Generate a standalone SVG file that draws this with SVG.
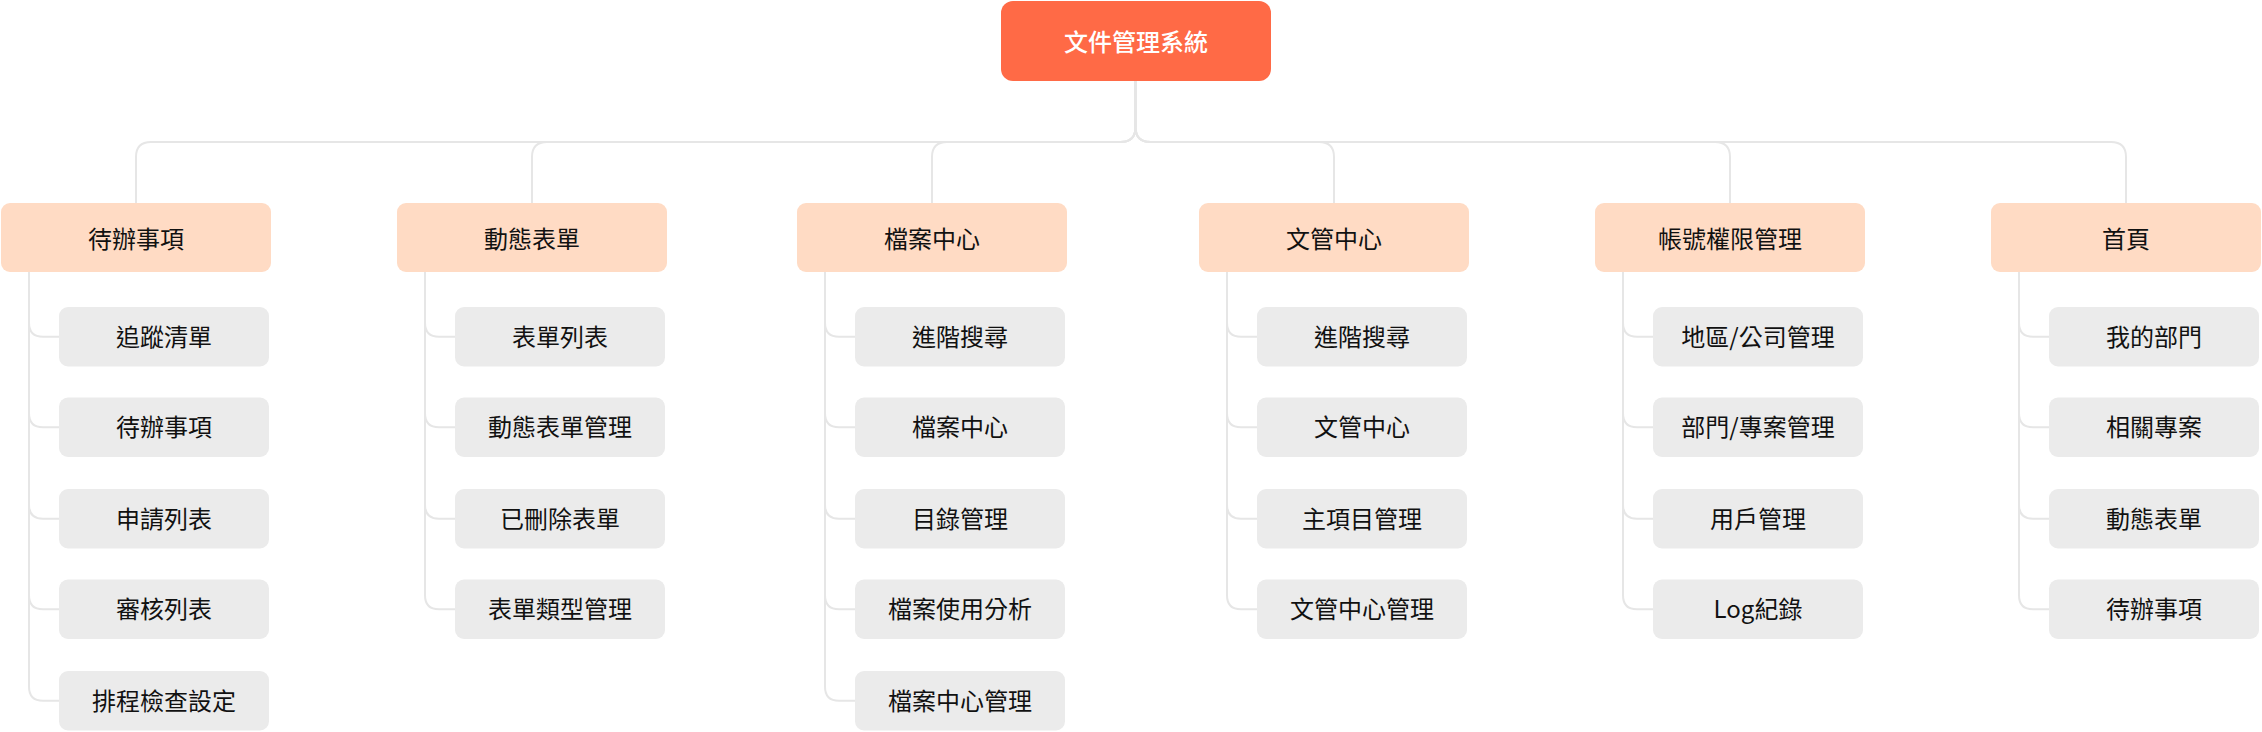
<svg xmlns="http://www.w3.org/2000/svg" width="2262" height="732" viewBox="0 0 2262 732">
<style>
.t{font-family:"Noto Sans CJK TC","Noto Sans CJK SC",sans-serif;font-size:24px;text-anchor:middle;fill:#111}
.rt{fill:#fff;font-weight:500}
.root{fill:#FF6A46}
.l1{fill:#FFDBC4}
.l2{fill:#EBEBEB}
.c path{fill:none;stroke:#E6E6E6;stroke-width:2}
</style>
<rect width="2262" height="732" fill="#fff"/>
<g class="c" id="connectors">
<path d="M1135.5 81V127Q1135.5 142 1120.5 142H151Q136 142 136 157V203"/>
<path d="M1135.5 81V127Q1135.5 142 1120.5 142H547Q532 142 532 157V203"/>
<path d="M1135.5 81V127Q1135.5 142 1120.5 142H947Q932 142 932 157V203"/>
<path d="M1135.5 81V127Q1135.5 142 1150.5 142H1319Q1334 142 1334 157V203"/>
<path d="M1135.5 81V127Q1135.5 142 1150.5 142H1715Q1730 142 1730 157V203"/>
<path d="M1135.5 81V127Q1135.5 142 1150.5 142H2111Q2126 142 2126 157V203"/>
<path d="M29 272V322.75Q29 336.75 43 336.75H59M29 272V413.25Q29 427.25 43 427.25H59M29 272V504.75Q29 518.75 43 518.75H59M29 272V595.25Q29 609.25 43 609.25H59M29 272V686.75Q29 700.75 43 700.75H59"/>
<path d="M425 272V322.75Q425 336.75 439 336.75H455M425 272V413.25Q425 427.25 439 427.25H455M425 272V504.75Q425 518.75 439 518.75H455M425 272V595.25Q425 609.25 439 609.25H455"/>
<path d="M825 272V322.75Q825 336.75 839 336.75H855M825 272V413.25Q825 427.25 839 427.25H855M825 272V504.75Q825 518.75 839 518.75H855M825 272V595.25Q825 609.25 839 609.25H855M825 272V686.75Q825 700.75 839 700.75H855"/>
<path d="M1227 272V322.75Q1227 336.75 1241 336.75H1257M1227 272V413.25Q1227 427.25 1241 427.25H1257M1227 272V504.75Q1227 518.75 1241 518.75H1257M1227 272V595.25Q1227 609.25 1241 609.25H1257"/>
<path d="M1623 272V322.75Q1623 336.75 1637 336.75H1653M1623 272V413.25Q1623 427.25 1637 427.25H1653M1623 272V504.75Q1623 518.75 1637 518.75H1653M1623 272V595.25Q1623 609.25 1637 609.25H1653"/>
<path d="M2019 272V322.75Q2019 336.75 2033 336.75H2049M2019 272V413.25Q2019 427.25 2033 427.25H2049M2019 272V504.75Q2019 518.75 2033 518.75H2049M2019 272V595.25Q2019 609.25 2033 609.25H2049"/>
</g>
<g id="root"><rect class="root" x="1001" y="1" width="270" height="80" rx="12"/><text class="t rt" x="1136" y="51">文件管理系統</text></g>

<g id="n1"><rect class="l1" x="1" y="203" width="270" height="69" rx="9"/><text class="t" x="136" y="248">待辦事項</text></g>
<g id="n1-1"><rect class="l2" x="59" y="307" width="210" height="59.5" rx="9"/><text class="t" x="164" y="345.5">追蹤清單</text></g>
<g id="n1-2"><rect class="l2" x="59" y="397.5" width="210" height="59.5" rx="9"/><text class="t" x="164" y="436">待辦事項</text></g>
<g id="n1-3"><rect class="l2" x="59" y="489" width="210" height="59.5" rx="9"/><text class="t" x="164" y="527.5">申請列表</text></g>
<g id="n1-4"><rect class="l2" x="59" y="579.5" width="210" height="59.5" rx="9"/><text class="t" x="164" y="618">審核列表</text></g>
<g id="n1-5"><rect class="l2" x="59" y="671" width="210" height="59.5" rx="9"/><text class="t" x="164" y="709.5">排程檢查設定</text></g>

<g id="n2"><rect class="l1" x="397" y="203" width="270" height="69" rx="9"/><text class="t" x="532" y="248">動態表單</text></g>
<g id="n2-1"><rect class="l2" x="455" y="307" width="210" height="59.5" rx="9"/><text class="t" x="560" y="345.5">表單列表</text></g>
<g id="n2-2"><rect class="l2" x="455" y="397.5" width="210" height="59.5" rx="9"/><text class="t" x="560" y="436">動態表單管理</text></g>
<g id="n2-3"><rect class="l2" x="455" y="489" width="210" height="59.5" rx="9"/><text class="t" x="560" y="527.5">已刪除表單</text></g>
<g id="n2-4"><rect class="l2" x="455" y="579.5" width="210" height="59.5" rx="9"/><text class="t" x="560" y="618">表單類型管理</text></g>

<g id="n3"><rect class="l1" x="797" y="203" width="270" height="69" rx="9"/><text class="t" x="932" y="248">檔案中心</text></g>
<g id="n3-1"><rect class="l2" x="855" y="307" width="210" height="59.5" rx="9"/><text class="t" x="960" y="345.5">進階搜尋</text></g>
<g id="n3-2"><rect class="l2" x="855" y="397.5" width="210" height="59.5" rx="9"/><text class="t" x="960" y="436">檔案中心</text></g>
<g id="n3-3"><rect class="l2" x="855" y="489" width="210" height="59.5" rx="9"/><text class="t" x="960" y="527.5">目錄管理</text></g>
<g id="n3-4"><rect class="l2" x="855" y="579.5" width="210" height="59.5" rx="9"/><text class="t" x="960" y="618">檔案使用分析</text></g>
<g id="n3-5"><rect class="l2" x="855" y="671" width="210" height="59.5" rx="9"/><text class="t" x="960" y="709.5">檔案中心管理</text></g>

<g id="n4"><rect class="l1" x="1199" y="203" width="270" height="69" rx="9"/><text class="t" x="1334" y="248">文管中心</text></g>
<g id="n4-1"><rect class="l2" x="1257" y="307" width="210" height="59.5" rx="9"/><text class="t" x="1362" y="345.5">進階搜尋</text></g>
<g id="n4-2"><rect class="l2" x="1257" y="397.5" width="210" height="59.5" rx="9"/><text class="t" x="1362" y="436">文管中心</text></g>
<g id="n4-3"><rect class="l2" x="1257" y="489" width="210" height="59.5" rx="9"/><text class="t" x="1362" y="527.5">主項目管理</text></g>
<g id="n4-4"><rect class="l2" x="1257" y="579.5" width="210" height="59.5" rx="9"/><text class="t" x="1362" y="618">文管中心管理</text></g>

<g id="n5"><rect class="l1" x="1595" y="203" width="270" height="69" rx="9"/><text class="t" x="1730" y="248">帳號權限管理</text></g>
<g id="n5-1"><rect class="l2" x="1653" y="307" width="210" height="59.5" rx="9"/><text class="t" x="1758" y="345.5">地區/公司管理</text></g>
<g id="n5-2"><rect class="l2" x="1653" y="397.5" width="210" height="59.5" rx="9"/><text class="t" x="1758" y="436">部門/專案管理</text></g>
<g id="n5-3"><rect class="l2" x="1653" y="489" width="210" height="59.5" rx="9"/><text class="t" x="1758" y="527.5">用戶管理</text></g>
<g id="n5-4"><rect class="l2" x="1653" y="579.5" width="210" height="59.5" rx="9"/><text class="t" x="1758" y="618">Log紀錄</text></g>

<g id="n6"><rect class="l1" x="1991" y="203" width="270" height="69" rx="9"/><text class="t" x="2126" y="248">首頁</text></g>
<g id="n6-1"><rect class="l2" x="2049" y="307" width="210" height="59.5" rx="9"/><text class="t" x="2154" y="345.5">我的部門</text></g>
<g id="n6-2"><rect class="l2" x="2049" y="397.5" width="210" height="59.5" rx="9"/><text class="t" x="2154" y="436">相關專案</text></g>
<g id="n6-3"><rect class="l2" x="2049" y="489" width="210" height="59.5" rx="9"/><text class="t" x="2154" y="527.5">動態表單</text></g>
<g id="n6-4"><rect class="l2" x="2049" y="579.5" width="210" height="59.5" rx="9"/><text class="t" x="2154" y="618">待辦事項</text></g>
</svg>
